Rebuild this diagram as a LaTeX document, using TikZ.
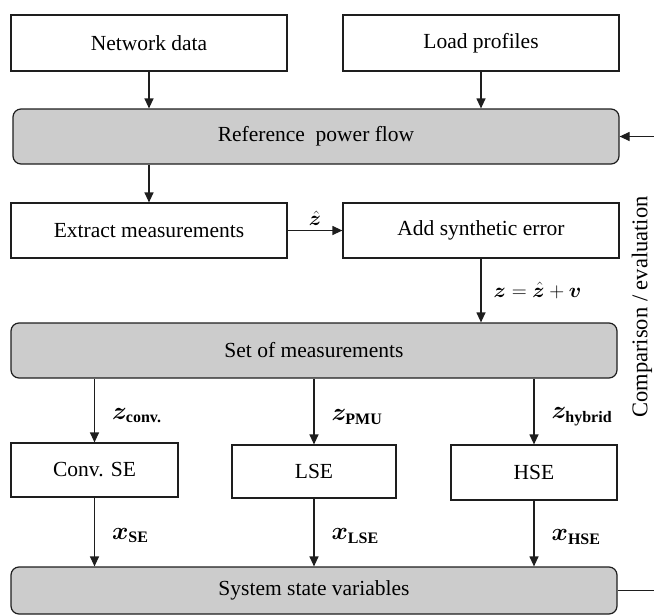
\documentclass[tikz,border=0pt]{standalone}
\usepackage{amsmath}
\usepackage{bm}
\usepackage{fontspec}
\setmainfont{Liberation Serif}
\usetikzlibrary{arrows.meta}
\definecolor{boxgray}{RGB}{204,204,204}
\definecolor{edgecol}{RGB}{30,30,30}
% bold upright subscript set in the text face
\newcommand{\subtxt}[1]{\text{\fontsize{16}{18}\selectfont\bfseries #1}}

\begin{document}
\begin{tikzpicture}[x=1pt,y=-1pt,
  every node/.style={font=\fontsize{21.5}{25}\selectfont},
  plainbox/.style={draw=edgecol, line width=1.2pt, fill=white, inner sep=0pt},
  graybox/.style={draw=edgecol, line width=1.2pt, fill=boxgray, rounded corners=8pt, inner sep=0pt},
  arr/.style={draw=edgecol, line width=1.2pt, -{Triangle[length=10pt,width=9pt]}},
  lbl/.style={anchor=west, inner sep=0pt, font=\fontsize{23}{26}\selectfont},
  sidetxt/.style={rotate=90, inner sep=0pt, font=\fontsize{22.5}{26}\selectfont}]

  % canvas
  \clip (0,0) rectangle (654,616);

  % input blocks
  \node[plainbox, minimum width=276pt, minimum height=56pt] (nd) at (149,43) {Network data};
  \node[plainbox, minimum width=276pt, minimum height=56pt] (lp) at (481,43) {Load profiles};

  % reference power flow
  \node[graybox, minimum width=606pt, minimum height=55pt] (rpf) at (316,136.5) {Reference~ power flow};

  % measurement generation
  \node[plainbox, minimum width=276pt, minimum height=55pt] (em) at (149,230.5) {Extract measurements};
  \node[plainbox, minimum width=276pt, minimum height=55pt] (ase) at (481,230.5) {Add synthetic error};

  \node[graybox, minimum width=606pt, minimum height=55pt] (som) at (314,350.5) {Set of measurements};

  % estimators
  \node[plainbox, minimum width=167pt, minimum height=54pt] (cse) at (94.5,470) {Conv. SE};
  \node[plainbox, minimum width=164pt, minimum height=53pt] (lse) at (314,471.5) {LSE};
  \node[plainbox, minimum width=166pt, minimum height=55pt] (hse) at (534,472.5) {HSE};

  \node[graybox, minimum width=606pt, minimum height=47pt] (ssv) at (314,590.5) {System state variables};

  % side annotation
  \node[sidetxt] (cmp) at (642,307) {Comparison / evaluation};

  % connectors
  \draw[arr] (nd.south) -- (nd.south |- rpf.north);
  \draw[arr] (lp.south) -- (lp.south |- rpf.north);
  \draw[arr] (rpf.south -| em.north) -- (em.north);
  \draw[arr] (em.east) -- node[above=4pt, inner sep=0pt, font=\fontsize{21}{24}\selectfont] {$\hat{\bm{z}}$} (ase.west);
  \draw[arr] (ase.south) -- node[lbl, xshift=12pt, font=\fontsize{21}{24}\selectfont] {$\bm{z}=\hat{\bm{z}}+\bm{v}$} (ase.south |- som.north);

  \draw[arr] (som.south -| cse.north) -- node[lbl, pos=0.58, xshift=17pt] {$\bm{z}_{\subtxt{conv.}}$} (cse.north);
  \draw[arr] (som.south -| lse.north) -- node[lbl, pos=0.58, xshift=17pt] {$\bm{z}_{\subtxt{PMU}}$} (lse.north);
  \draw[arr] (som.south -| hse.north) -- node[lbl, pos=0.58, xshift=17pt] {$\bm{z}_{\subtxt{hybrid}}$} (hse.north);

  \draw[arr] (cse.south) -- node[lbl, pos=0.55, xshift=17pt] {$\bm{x}_{\subtxt{SE}}$} (cse.south |- ssv.north);
  \draw[arr] (lse.south) -- node[lbl, pos=0.55, xshift=17pt] {$\bm{x}_{\subtxt{LSE}}$} (lse.south |- ssv.north);
  \draw[arr] (hse.south) -- node[lbl, pos=0.55, xshift=17pt] {$\bm{x}_{\subtxt{HSE}}$} (hse.south |- ssv.north);

  % feedback loop running past the right edge
  \coordinate (fb) at (690,0);
  \draw[arr] (ssv.east) -- (ssv.east -| fb) |- (rpf.east);
\end{tikzpicture}
\end{document}
